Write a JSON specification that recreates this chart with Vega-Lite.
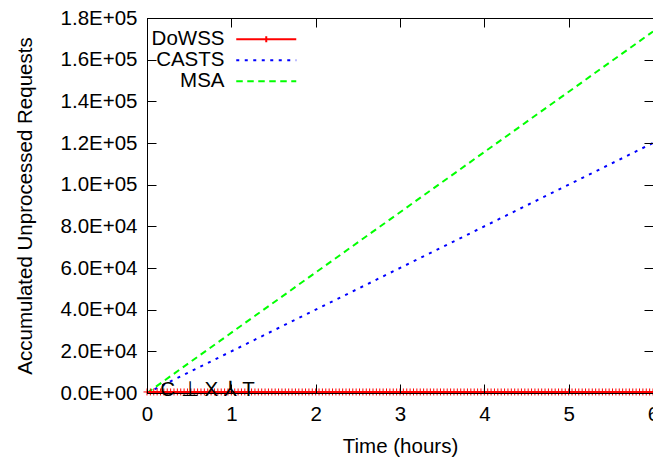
{
  "$schema": "https://vega.github.io/schema/vega-lite/v6.json",
  "width": 506,
  "height": 375,
  "autosize": {"type": "none"},
  "padding": {"left": 147, "top": 18, "right": 0, "bottom": 66},
  "background": "white",
  "config": {
    "view": {"stroke": "black", "strokeWidth": 1},
    "font": "Liberation Sans",
    "axis": {"grid": false, "labelFont": "Liberation Sans", "titleFont": "Liberation Sans", "labelColor": "black", "titleColor": "black", "labelFontSize": 20.5, "titleFontSize": 20.5, "titleFontWeight": "normal", "domainColor": "black", "tickColor": "black", "tickWidth": 1}
  },
  "datasets": {
    "series": [
      {"series": "CASTS", "t": 0, "v": 0},
      {"series": "CASTS", "t": 6, "v": 120000},
      {"series": "MSA", "t": 0, "v": 0},
      {"series": "MSA", "t": 6, "v": 173500},
      {"series": "DoWSS", "t": 0, "v": 500}, {"series": "DoWSS", "t": 0.04, "v": 500}, {"series": "DoWSS", "t": 0.08, "v": 500}, {"series": "DoWSS", "t": 0.12, "v": 500}, {"series": "DoWSS", "t": 0.16, "v": 500}, {"series": "DoWSS", "t": 0.2, "v": 500}, {"series": "DoWSS", "t": 0.24, "v": 500}, {"series": "DoWSS", "t": 0.28, "v": 500}, {"series": "DoWSS", "t": 0.32, "v": 500}, {"series": "DoWSS", "t": 0.36, "v": 500},
      {"series": "DoWSS", "t": 0.4, "v": 500}, {"series": "DoWSS", "t": 0.44, "v": 500}, {"series": "DoWSS", "t": 0.48, "v": 500}, {"series": "DoWSS", "t": 0.52, "v": 500}, {"series": "DoWSS", "t": 0.56, "v": 500}, {"series": "DoWSS", "t": 0.6, "v": 500}, {"series": "DoWSS", "t": 0.64, "v": 500}, {"series": "DoWSS", "t": 0.68, "v": 500}, {"series": "DoWSS", "t": 0.72, "v": 500}, {"series": "DoWSS", "t": 0.76, "v": 500},
      {"series": "DoWSS", "t": 0.8, "v": 500}, {"series": "DoWSS", "t": 0.84, "v": 500}, {"series": "DoWSS", "t": 0.88, "v": 500}, {"series": "DoWSS", "t": 0.92, "v": 500}, {"series": "DoWSS", "t": 0.96, "v": 500}, {"series": "DoWSS", "t": 1.0, "v": 500}, {"series": "DoWSS", "t": 1.04, "v": 500}, {"series": "DoWSS", "t": 1.08, "v": 500}, {"series": "DoWSS", "t": 1.12, "v": 500}, {"series": "DoWSS", "t": 1.16, "v": 500},
      {"series": "DoWSS", "t": 1.2, "v": 500}, {"series": "DoWSS", "t": 1.24, "v": 500}, {"series": "DoWSS", "t": 1.28, "v": 500}, {"series": "DoWSS", "t": 1.32, "v": 500}, {"series": "DoWSS", "t": 1.36, "v": 500}, {"series": "DoWSS", "t": 1.4, "v": 500}, {"series": "DoWSS", "t": 1.44, "v": 500}, {"series": "DoWSS", "t": 1.48, "v": 500}, {"series": "DoWSS", "t": 1.52, "v": 500}, {"series": "DoWSS", "t": 1.56, "v": 500},
      {"series": "DoWSS", "t": 1.6, "v": 500}, {"series": "DoWSS", "t": 1.64, "v": 500}, {"series": "DoWSS", "t": 1.68, "v": 500}, {"series": "DoWSS", "t": 1.72, "v": 500}, {"series": "DoWSS", "t": 1.76, "v": 500}, {"series": "DoWSS", "t": 1.8, "v": 500}, {"series": "DoWSS", "t": 1.84, "v": 500}, {"series": "DoWSS", "t": 1.88, "v": 500}, {"series": "DoWSS", "t": 1.92, "v": 500}, {"series": "DoWSS", "t": 1.96, "v": 500},
      {"series": "DoWSS", "t": 2.0, "v": 500}, {"series": "DoWSS", "t": 2.04, "v": 500}, {"series": "DoWSS", "t": 2.08, "v": 500}, {"series": "DoWSS", "t": 2.12, "v": 500}, {"series": "DoWSS", "t": 2.16, "v": 500}, {"series": "DoWSS", "t": 2.2, "v": 500}, {"series": "DoWSS", "t": 2.24, "v": 500}, {"series": "DoWSS", "t": 2.28, "v": 500}, {"series": "DoWSS", "t": 2.32, "v": 500}, {"series": "DoWSS", "t": 2.36, "v": 500},
      {"series": "DoWSS", "t": 2.4, "v": 500}, {"series": "DoWSS", "t": 2.44, "v": 500}, {"series": "DoWSS", "t": 2.48, "v": 500}, {"series": "DoWSS", "t": 2.52, "v": 500}, {"series": "DoWSS", "t": 2.56, "v": 500}, {"series": "DoWSS", "t": 2.6, "v": 500}, {"series": "DoWSS", "t": 2.64, "v": 500}, {"series": "DoWSS", "t": 2.68, "v": 500}, {"series": "DoWSS", "t": 2.72, "v": 500}, {"series": "DoWSS", "t": 2.76, "v": 500},
      {"series": "DoWSS", "t": 2.8, "v": 500}, {"series": "DoWSS", "t": 2.84, "v": 500}, {"series": "DoWSS", "t": 2.88, "v": 500}, {"series": "DoWSS", "t": 2.92, "v": 500}, {"series": "DoWSS", "t": 2.96, "v": 500}, {"series": "DoWSS", "t": 3.0, "v": 500}, {"series": "DoWSS", "t": 3.04, "v": 500}, {"series": "DoWSS", "t": 3.08, "v": 500}, {"series": "DoWSS", "t": 3.12, "v": 500}, {"series": "DoWSS", "t": 3.16, "v": 500},
      {"series": "DoWSS", "t": 3.2, "v": 500}, {"series": "DoWSS", "t": 3.24, "v": 500}, {"series": "DoWSS", "t": 3.28, "v": 500}, {"series": "DoWSS", "t": 3.32, "v": 500}, {"series": "DoWSS", "t": 3.36, "v": 500}, {"series": "DoWSS", "t": 3.4, "v": 500}, {"series": "DoWSS", "t": 3.44, "v": 500}, {"series": "DoWSS", "t": 3.48, "v": 500}, {"series": "DoWSS", "t": 3.52, "v": 500}, {"series": "DoWSS", "t": 3.56, "v": 500},
      {"series": "DoWSS", "t": 3.6, "v": 500}, {"series": "DoWSS", "t": 3.64, "v": 500}, {"series": "DoWSS", "t": 3.68, "v": 500}, {"series": "DoWSS", "t": 3.72, "v": 500}, {"series": "DoWSS", "t": 3.76, "v": 500}, {"series": "DoWSS", "t": 3.8, "v": 500}, {"series": "DoWSS", "t": 3.84, "v": 500}, {"series": "DoWSS", "t": 3.88, "v": 500}, {"series": "DoWSS", "t": 3.92, "v": 500}, {"series": "DoWSS", "t": 3.96, "v": 500},
      {"series": "DoWSS", "t": 4.0, "v": 500}, {"series": "DoWSS", "t": 4.04, "v": 500}, {"series": "DoWSS", "t": 4.08, "v": 500}, {"series": "DoWSS", "t": 4.12, "v": 500}, {"series": "DoWSS", "t": 4.16, "v": 500}, {"series": "DoWSS", "t": 4.2, "v": 500}, {"series": "DoWSS", "t": 4.24, "v": 500}, {"series": "DoWSS", "t": 4.28, "v": 500}, {"series": "DoWSS", "t": 4.32, "v": 500}, {"series": "DoWSS", "t": 4.36, "v": 500},
      {"series": "DoWSS", "t": 4.4, "v": 500}, {"series": "DoWSS", "t": 4.44, "v": 500}, {"series": "DoWSS", "t": 4.48, "v": 500}, {"series": "DoWSS", "t": 4.52, "v": 500}, {"series": "DoWSS", "t": 4.56, "v": 500}, {"series": "DoWSS", "t": 4.6, "v": 500}, {"series": "DoWSS", "t": 4.64, "v": 500}, {"series": "DoWSS", "t": 4.68, "v": 500}, {"series": "DoWSS", "t": 4.72, "v": 500}, {"series": "DoWSS", "t": 4.76, "v": 500},
      {"series": "DoWSS", "t": 4.8, "v": 500}, {"series": "DoWSS", "t": 4.84, "v": 500}, {"series": "DoWSS", "t": 4.88, "v": 500}, {"series": "DoWSS", "t": 4.92, "v": 500}, {"series": "DoWSS", "t": 4.96, "v": 500}, {"series": "DoWSS", "t": 5.0, "v": 500}, {"series": "DoWSS", "t": 5.04, "v": 500}, {"series": "DoWSS", "t": 5.08, "v": 500}, {"series": "DoWSS", "t": 5.12, "v": 500}, {"series": "DoWSS", "t": 5.16, "v": 500},
      {"series": "DoWSS", "t": 5.2, "v": 500}, {"series": "DoWSS", "t": 5.24, "v": 500}, {"series": "DoWSS", "t": 5.28, "v": 500}, {"series": "DoWSS", "t": 5.32, "v": 500}, {"series": "DoWSS", "t": 5.36, "v": 500}, {"series": "DoWSS", "t": 5.4, "v": 500}, {"series": "DoWSS", "t": 5.44, "v": 500}, {"series": "DoWSS", "t": 5.48, "v": 500}, {"series": "DoWSS", "t": 5.52, "v": 500}, {"series": "DoWSS", "t": 5.56, "v": 500},
      {"series": "DoWSS", "t": 5.6, "v": 500}, {"series": "DoWSS", "t": 5.64, "v": 500}, {"series": "DoWSS", "t": 5.68, "v": 500}, {"series": "DoWSS", "t": 5.72, "v": 500}, {"series": "DoWSS", "t": 5.76, "v": 500}, {"series": "DoWSS", "t": 5.8, "v": 500}, {"series": "DoWSS", "t": 5.84, "v": 500}, {"series": "DoWSS", "t": 5.88, "v": 500}, {"series": "DoWSS", "t": 5.92, "v": 500}, {"series": "DoWSS", "t": 5.96, "v": 500},
      {"series": "DoWSS", "t": 6.0, "v": 500}
    ],
    "note": [
      {"label": "C ⊥ X ⅄ T", "t": 0.717, "v": 1500}
    ]
  },
  "layer": [
    {
      "data": {"name": "series"},
      "mark": {"type": "line", "strokeWidth": 2},
      "encoding": {
        "x": {"field": "t", "type": "quantitative", "scale": {"domain": [0, 6], "nice": false, "zero": false},
          "axis": {"orient": "bottom", "values": [0, 1, 2, 3, 4, 5, 6], "ticks": true, "tickSize": -9, "domain": true, "zindex": 1, "labelPadding": 36, "labelBaseline": "alphabetic", "labelFlush": false, "title": "Time (hours)", "titleX": 253, "titleY": 59, "titleBaseline": "alphabetic", "titleAlign": "center", "titleAnchor": null}},
        "y": {"field": "v", "type": "quantitative", "scale": {"domain": [0, 180000], "nice": false},
          "axis": {"orient": "left", "values": [0, 20000, 40000, 60000, 80000, 100000, 120000, 140000, 160000, 180000], "ticks": true, "tickSize": -9, "domain": true, "zindex": 1, "labelPadding": 19, "labelFlush": false, "labelBaseline": "middle",
            "labelExpr": "datum.value == 0 ? '0.0E+00' : (datum.value < 100000 ? format(datum.value / 10000, '.1f') + 'E+04' : format(datum.value / 100000, '.1f') + 'E+05')",
            "title": "Accumulated Unprocessed Requests", "titleX": -122, "titleY": 187.5, "titleAngle": -90, "titleBaseline": "middle", "titleAlign": "center", "titleAnchor": null}},
        "color": {"field": "series", "type": "nominal",
          "scale": {"domain": ["DoWSS", "CASTS", "MSA"], "range": ["#ff0000", "#0000ff", "#00ff00"]},
          "legend": {"orient": "none", "legendX": 109, "legendY": 11, "title": null,
            "symbolType": "M-5,0H5", "symbolSize": 144, "symbolStrokeWidth": 2,
            "labelFont": "Liberation Sans", "labelFontSize": 20.5, "labelColor": "black", "labelAlign": "right", "labelOffset": -52, "rowPadding": 0,
            "encode": {"symbols": {"update": {"shape": {"signal": "datum.value === 'DoWSS' ? 'M-5,0H5M0,-0.5V0.5' : 'M-5,0H5'"}}}}}},
        "strokeDash": {"field": "series", "type": "nominal",
          "scale": {"domain": ["DoWSS", "CASTS", "MSA"], "range": [[1, 0], [3, 5.5], [6.5, 4.5]]}}
      }
    },
    {
      "data": {"name": "series"},
      "transform": [{"filter": "datum.series === 'DoWSS'"}],
      "mark": {"type": "point", "shape": "M-1,0H1M0,-1V1", "size": 49, "filled": false, "stroke": "#ff0000", "strokeWidth": 1, "opacity": 1},
      "encoding": {
        "x": {"field": "t", "type": "quantitative", "axis": {"orient": "top", "values": [0, 1, 2, 3, 4, 5, 6], "labels": false, "ticks": true, "tickSize": -9, "domain": true, "zindex": 2, "title": null}},
        "y": {"field": "v", "type": "quantitative", "axis": {"orient": "right", "values": [0, 20000, 40000, 60000, 80000, 100000, 120000, 140000, 160000, 180000], "labels": false, "ticks": true, "tickSize": -9, "domain": true, "zindex": 2, "title": null}}
      }
    },
    {
      "data": {"name": "note"},
      "mark": {"type": "text", "font": "Liberation Sans", "fontSize": 20.5, "color": "black", "align": "center", "baseline": "middle"},
      "encoding": {
        "x": {"field": "t", "type": "quantitative", "axis": null},
        "y": {"field": "v", "type": "quantitative", "axis": null},
        "text": {"field": "label", "type": "nominal"}
      }
    }
  ],
  "resolve": {"axis": {"x": "independent", "y": "independent"}}
}
